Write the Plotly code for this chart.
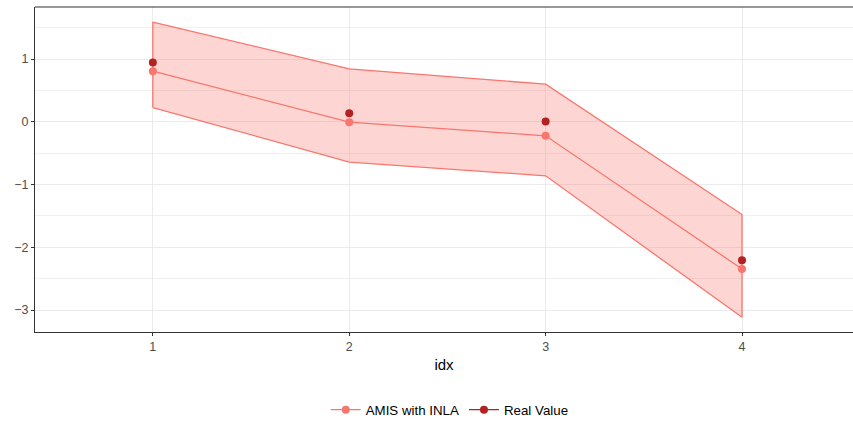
import plotly.graph_objects as go

idx = [1, 2, 3, 4]
upper = [1.59, 0.844, 0.60, -1.476]
lower = [0.228, -0.642, -0.86, -3.116]
mean_amis = [0.807, -0.005, -0.223, -2.346]
real_value = [0.944, 0.138, 0.005, -2.208]

amis_col = "#F8766D"
real_col = "#B22222"

fig = go.Figure()
# ribbon
fig.add_trace(go.Scatter(x=idx, y=lower, mode="lines", line=dict(color=amis_col, width=1.3),
                         showlegend=False, hoverinfo="skip"))
fig.add_trace(go.Scatter(x=idx, y=upper, mode="lines", line=dict(color=amis_col, width=1.3),
                         fill="tonexty", fillcolor="rgba(248,118,109,0.3)",
                         showlegend=False, hoverinfo="skip"))
fig.add_trace(go.Scatter(x=[idx[0], idx[0]], y=[lower[0], upper[0]], mode="lines",
                         line=dict(color=amis_col, width=1.3), showlegend=False, hoverinfo="skip"))
fig.add_trace(go.Scatter(x=[idx[-1], idx[-1]], y=[lower[-1], upper[-1]], mode="lines",
                         line=dict(color=amis_col, width=1.3), showlegend=False, hoverinfo="skip"))
fig.add_trace(go.Scatter(x=idx, y=mean_amis, mode="lines+markers", name="AMIS with INLA",
                         line=dict(color=amis_col, width=1.3),
                         marker=dict(color=amis_col, size=8)))
# legend entry for Real Value (line + dot swatch as in ggplot)
fig.add_trace(go.Scatter(x=[None], y=[None], mode="lines+markers", name="Real Value",
                         line=dict(color=real_col, width=1.3), marker=dict(color=real_col, size=8),
                         showlegend=True))
fig.add_trace(go.Scatter(x=idx, y=real_value, mode="markers", name="Real Value",
                         marker=dict(color=real_col, size=8), showlegend=False))

fig.update_layout(
    width=853, height=424,
    margin=dict(l=35, r=0, t=7, b=92, autoexpand=False),
    paper_bgcolor="white", plot_bgcolor="white",
    font=dict(family="Liberation Sans, Arial, sans-serif", size=12, color="#4D4D4D"),
    showlegend=True,
    legend=dict(orientation="h", x=0.507, xanchor="center", y=-0.24, yanchor="middle",
                traceorder="normal",
                font=dict(size=13.3, color="black"), itemwidth=30, tracegroupgap=0),
    xaxis=dict(range=[0.4, 4.565], tickvals=idx, ticktext=[str(i) for i in idx],
               showgrid=True, gridcolor="#EBEBEB", gridwidth=1.3, zeroline=False,
               showline=True, linecolor="#333333", linewidth=1.2,
               ticks="outside", ticklen=3, tickcolor="#333333", tickwidth=1.2,
               title=dict(text="idx", font=dict(size=15, color="black"), standoff=6),
               tickfont=dict(size=12.5, color="#4D4D4D"), automargin=False),
    yaxis=dict(range=[-3.35, 1.83], tickvals=[-3, -2, -1, 0, 1],
               ticktext=["\u22123", "\u22122", "\u22121", "0", "1"],
               showgrid=True, gridcolor="#EBEBEB", gridwidth=1.3, zeroline=False,
               showline=True, linecolor="#333333", linewidth=1.2,
               ticks="outside", ticklen=3, tickcolor="#333333", tickwidth=1.2,
               minor=dict(tickvals=[-2.5, -1.5, -0.5, 0.5, 1.5], showgrid=True,
                          gridcolor="#F0F0F0", gridwidth=1, ticks=""),
               tickfont=dict(size=12.5, color="#4D4D4D"), automargin=False),
    shapes=[dict(type="line", xref="paper", yref="paper", x0=0, x1=1, y0=1, y1=1,
                 line=dict(color="#333333", width=1.2))],
)

fig.write_html("out.html")
